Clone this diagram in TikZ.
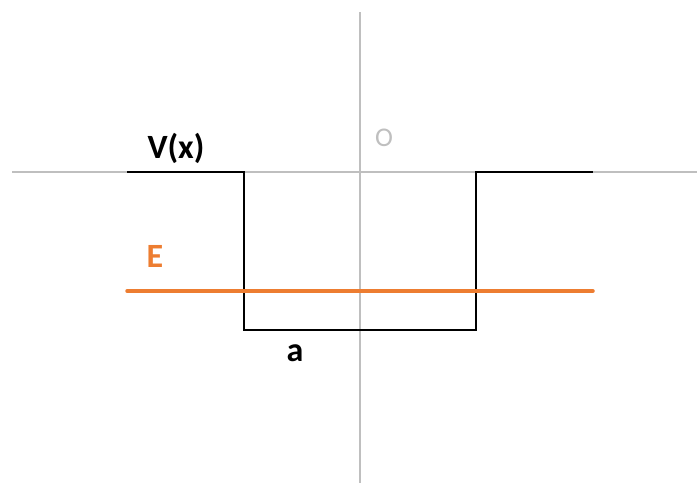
\documentclass[tikz,border=0pt]{standalone}
\usepackage{fontspec}
\setmainfont{Carlito}
\definecolor{axisgray}{RGB}{191,191,191}
\definecolor{eorange}{RGB}{237,125,49}
\begin{document}
\begin{tikzpicture}[x=1pt,y=-1pt,
  axisline/.style={draw=axisgray,line width=2.2pt},
  wellline/.style={draw=black,line width=2.5pt},
  energyline/.style={draw=eorange,line width=3.5pt,line cap=round},
  lbl/.style={font=\fontsize{34}{40}\selectfont\bfseries,inner sep=0pt}]
\useasboundingbox (0,0) rectangle (697,483);
\coordinate (xl) at (12,172);
\coordinate (xr) at (697,172);
\coordinate (yt) at (360,12);
\coordinate (yb) at (360,483);
\draw[axisline] (xl) -- (xr);
\draw[axisline] (yt) -- (yb);
\coordinate (p1) at (127,172);
\coordinate (p2) at (244,172);
\coordinate (p3) at (244,330);
\coordinate (p4) at (476,330);
\coordinate (p5) at (476,172);
\coordinate (p6) at (593,172);
\draw[wellline] (p1) -- (p2) -- (p3) -- (p4) -- (p5) -- (p6);
\coordinate (e1) at (127,291);
\coordinate (e2) at (593,291);
\draw[energyline] (e1) -- (e2);
\node[lbl] (vx) at (176,148) {V(x)};
\node[lbl,text=eorange] (E) at (155,256) {E};
\node[lbl] (a) at (295,353) {a};
\node[font=\fontsize{27}{32}\selectfont,text=axisgray,inner sep=0pt] (o) at (384,138) {O};
\end{tikzpicture}
\end{document}
